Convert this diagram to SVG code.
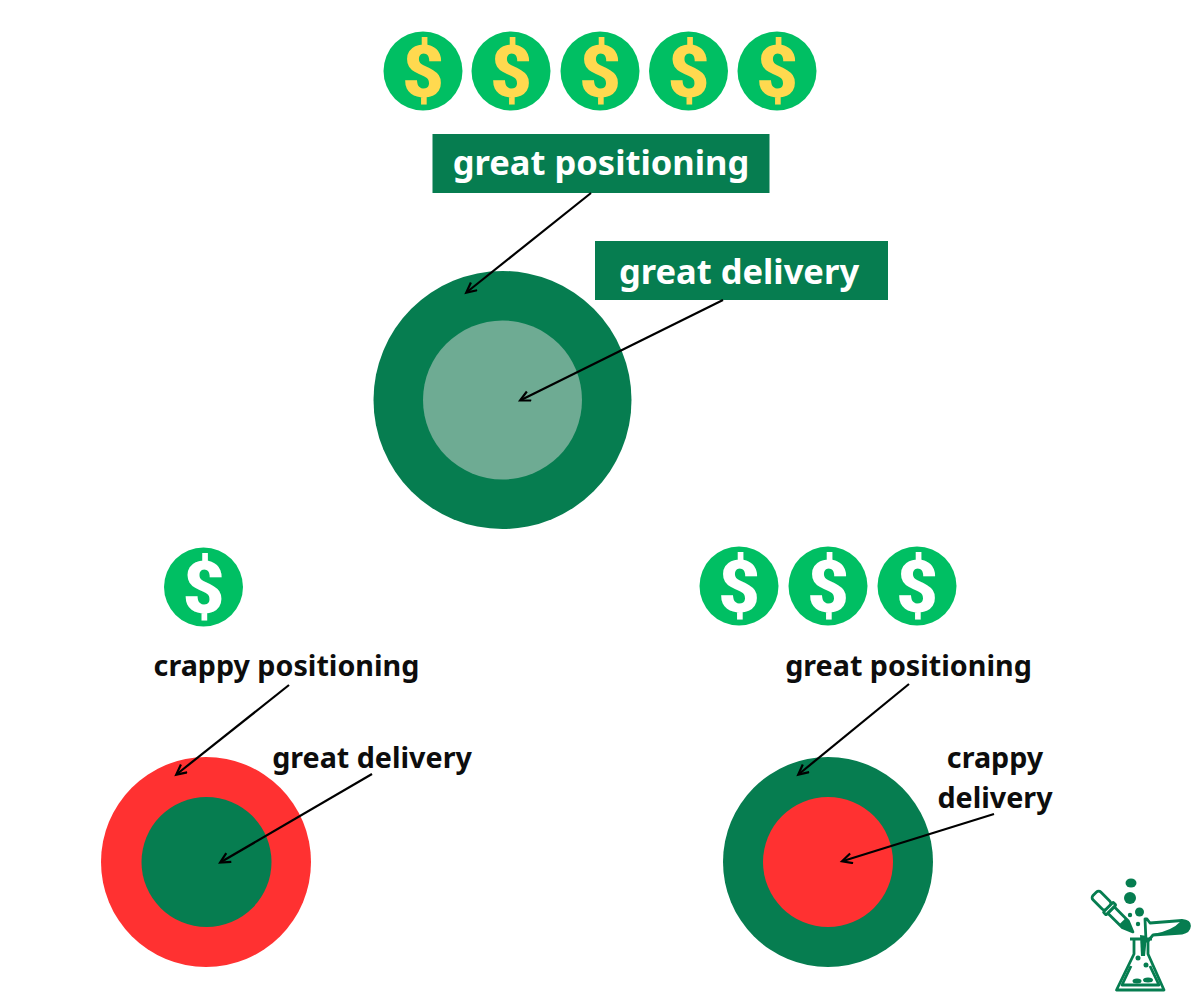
<svg xmlns="http://www.w3.org/2000/svg" width="1200" height="1006" viewBox="0 0 1200 1006">
<style>
.lbl{font-family:"Noto Sans","Open Sans",sans-serif;font-weight:700;text-anchor:middle}
.w{fill:#fff;font-size:34.500px}
.k{fill:#0d0d0d;font-size:28.700px}
.d{font-family:Roboto,"Noto Sans",sans-serif;font-weight:900;font-size:72px;text-anchor:middle}
.y{fill:#ffd94f}.wd{fill:#fff}
.coin{fill:#00bf63}
.dg{fill:#067d50}.lg{fill:#6eab93}.rd{fill:#ff3131}
.c{stroke:#000;stroke-width:2.2;fill:none;marker-end:url(#a)}
.lo{fill:none;stroke:#067d50;stroke-width:2.800;stroke-linejoin:round}
.lw{fill:#fff;stroke:#067d50;stroke-width:2.800;stroke-linejoin:round}
.lf{fill:#067d50}
</style>
<defs>
<marker id="a" markerUnits="userSpaceOnUse" markerWidth="14" markerHeight="14" refX="10" refY="6" orient="auto"><path d="M1 1L11 6L1 11" fill="none" stroke="#000" stroke-width="2.2"/></marker>
</defs>
<rect width="1200" height="1006" fill="#fff"/>
<g id="top-coins">
<circle class="coin" cx="423" cy="71" r="39.5"/><text class="d y" x="423" y="97">$</text>
<circle class="coin" cx="511" cy="71" r="39.5"/><text class="d y" x="511" y="97">$</text>
<circle class="coin" cx="600" cy="71" r="39.5"/><text class="d y" x="600" y="97">$</text>
<circle class="coin" cx="688.500" cy="71" r="39.5"/><text class="d y" x="688.500" y="97">$</text>
<circle class="coin" cx="777" cy="71" r="39.5"/><text class="d y" x="777" y="97">$</text>
</g>
<g id="top-positioning"><rect class="dg" x="432.500" y="134" width="337" height="59"/><text class="lbl w" x="601" y="175">great positioning</text></g>
<g id="top-delivery"><rect class="dg" x="595" y="241" width="293" height="59"/><text class="lbl w" x="739" y="284">great delivery</text></g>
<g id="top-circle"><circle class="dg" cx="502.500" cy="400" r="129"/><circle class="lg" cx="502.500" cy="400" r="79.500"/></g>
<g id="left-coin"><circle class="coin" cx="203.500" cy="587" r="39.500"/><text class="d wd" x="203.500" y="613">$</text></g>
<g id="left-positioning"><text class="lbl k" x="286.500" y="676">crappy positioning</text></g>
<g id="left-delivery"><text class="lbl k" x="372" y="768">great delivery</text></g>
<g id="left-circle"><circle class="rd" cx="206" cy="862" r="105"/><circle class="dg" cx="206.500" cy="862" r="65"/></g>
<g id="right-coins">
<circle class="coin" cx="739" cy="586" r="39.500"/><text class="d wd" x="739" y="612">$</text>
<circle class="coin" cx="828" cy="586" r="39.500"/><text class="d wd" x="828" y="612">$</text>
<circle class="coin" cx="917" cy="586" r="39.500"/><text class="d wd" x="917" y="612">$</text>
</g>
<g id="right-positioning"><text class="lbl k" x="908.500" y="676">great positioning</text></g>
<g id="right-delivery"><text class="lbl k" x="995" y="768">crappy</text><text class="lbl k" x="995" y="808">delivery</text></g>
<g id="right-circle"><circle class="dg" cx="828" cy="862" r="105"/><circle class="rd" cx="828" cy="862" r="65"/></g>
<g id="connectors">
<path class="c" d="M591 193L467 292"/>
<path class="c" d="M723 300L521 400"/>
<path class="c" d="M289 685L177 774"/>
<path class="c" d="M372 774L221 862"/>
<path class="c" d="M909 684L799 774"/>
<path class="c" d="M994 814L843 861"/>
</g>
<g id="logo">
<ellipse class="lf" cx="1131" cy="883" rx="5.500" ry="4.500"/>
<circle class="lf" cx="1130" cy="898" r="6"/>
<circle class="lf" cx="1139.500" cy="912" r="4.500"/>
<circle class="lf" cx="1130" cy="915" r="2.200"/>
<circle class="lf" cx="1138" cy="924" r="2.200"/>
<g transform="translate(1099 898) rotate(45)">
<rect class="lo" x="-6" y="-5.500" width="19" height="11" rx="3"/>
<rect class="lw" x="13" y="-7" width="4" height="14" rx="1"/>
<path class="lo" d="M17 -4.500L37 -4.500L48 0L37 4.500L17 4.500Z"/>
<path class="lf" d="M33 -4.500L37 -4.500L48 0L37 4.500L33 4.500Z"/>
</g>
<path class="lo" d="M1145 919L1147 919L1150 923L1182 920.500Q1189.500 921 1189.500 926Q1189 932 1182 933L1153 935L1148 941L1146 941Z"/>
<path class="lf" d="M1153 934Q1172 931 1181 921Q1189.500 921 1189.500 926Q1189 932 1182 933L1153 935Z"/>
<path class="lo" d="M1130 939L1152 939M1134 939L1134 954L1116.500 990L1164 990L1148 954L1148 939"/>
<path class="lo" d="M1131 966L1122 985L1159 985L1150 966"/>
<path class="lf" d="M1140 935L1147 936L1145 956L1141 956Z"/>
<circle class="lf" cx="1138" cy="958" r="2.500"/>
<circle class="lf" cx="1146" cy="965" r="2.500"/>
<ellipse class="lf" cx="1137" cy="981" rx="4.500" ry="2.500"/>
<ellipse class="lf" cx="1148" cy="980" rx="5" ry="2.500"/>
</g>
</svg>
